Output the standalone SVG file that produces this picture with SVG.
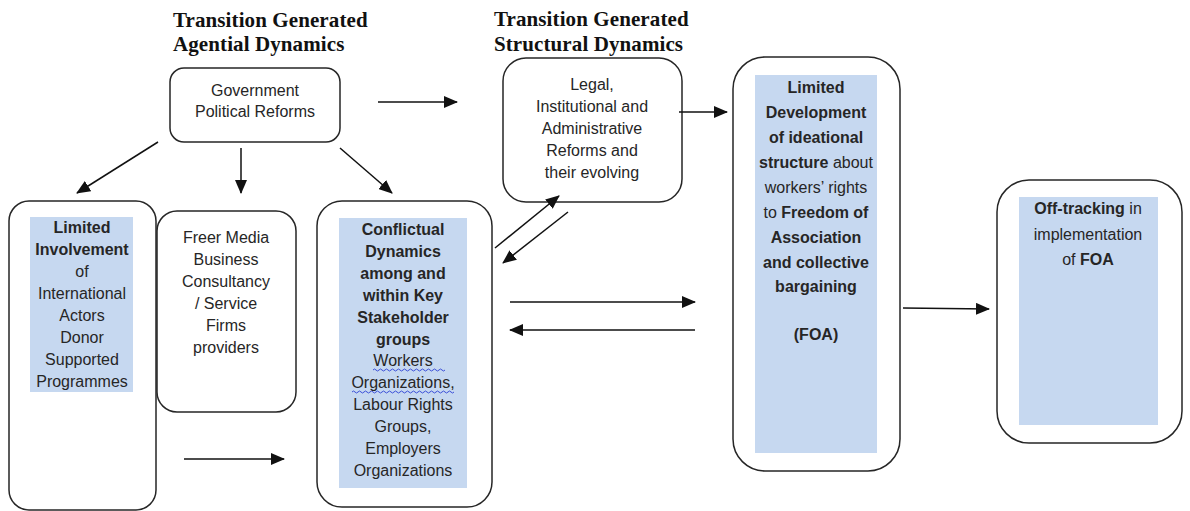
<svg xmlns="http://www.w3.org/2000/svg" width="1190" height="511" viewBox="0 0 1190 511">
<style>
.box{fill:#fff;stroke:#262626;stroke-width:1.5}
.hl{fill:#c6d8f0}
.t{font-family:"Liberation Sans",Arial,sans-serif;font-size:16px;fill:#262626;text-anchor:middle}
.b{font-weight:bold}
.title{font-family:"Liberation Serif","Times New Roman",serif;font-size:21px;font-weight:bold;fill:#111;letter-spacing:0.1px}
.c{stroke:#111;stroke-width:1.5;fill:none;marker-end:url(#ah)}
.wave{stroke:#3b4fd8;stroke-width:1;fill:none}
</style>
<defs>
<marker id="ah" markerUnits="userSpaceOnUse" markerWidth="14" markerHeight="12" refX="13" refY="6" orient="auto">
<path d="M0,0 L14,6 L0,12 Z" fill="#111"/>
</marker>
</defs>
<rect width="1190" height="511" fill="#fff"/>

<g id="titles">
<text class="title" x="173" y="27">Transition Generated</text>
<text class="title" x="173" y="51">Agential Dynamics</text>
<text class="title" x="494" y="26">Transition Generated</text>
<text class="title" x="494" y="51">Structural Dynamics</text>
</g>

<g id="gov">
<rect class="box" x="170" y="68" width="170" height="74" rx="14"/>
<text class="t" x="255" y="96">Government</text>
<text class="t" x="255" y="117">Political Reforms</text>
</g>

<g id="intl">
<rect class="box" x="9" y="201" width="147" height="309" rx="20"/>
<rect class="hl" x="30" y="217" width="103" height="175"/>
<text class="t b" x="82" y="233">Limited</text>
<text class="t b" x="82" y="255">Involvement</text>
<text class="t" x="82" y="277">of</text>
<text class="t" x="82" y="299">International</text>
<text class="t" x="82" y="321">Actors</text>
<text class="t" x="82" y="343">Donor</text>
<text class="t" x="82" y="365">Supported</text>
<text class="t" x="82" y="387">Programmes</text>
</g>

<g id="media">
<rect class="box" x="157" y="211" width="139" height="201" rx="20"/>
<text class="t" x="226" y="243">Freer Media</text>
<text class="t" x="226" y="265">Business</text>
<text class="t" x="226" y="287">Consultancy</text>
<text class="t" x="226" y="309">/ Service</text>
<text class="t" x="226" y="331">Firms</text>
<text class="t" x="226" y="353">providers</text>
</g>

<g id="conflict">
<rect class="box" x="317" y="201" width="175" height="306" rx="25"/>
<rect class="hl" x="339" y="218" width="128" height="270"/>
<text class="t b" x="403" y="235">Conflictual</text>
<text class="t b" x="403" y="257">Dynamics</text>
<text class="t b" x="403" y="279">among and</text>
<text class="t b" x="403" y="301">within Key</text>
<text class="t b" x="403" y="323">Stakeholder</text>
<text class="t b" x="403" y="345">groups</text>
<text class="t" x="403" y="366">Workers</text>
<text class="t" x="403" y="388">Organizations,</text>
<text class="t" x="403" y="410">Labour Rights</text>
<text class="t" x="403" y="432">Groups,</text>
<text class="t" x="403" y="454">Employers</text>
<text class="t" x="403" y="476">Organizations</text>
<path class="wave" d="M373,370 q1.5,-2 3,0 t3,0 t3,0 t3,0 t3,0 t3,0 t3,0 t3,0 t3,0 t3,0 t3,0 t3,0 t3,0 t3,0 t3,0 t3,0 t3,0 t3,0 t3,0 t3,0 t3,0 t3,0 t3,0 t3,0"/>
<path class="wave" d="M352,392 q1.5,-2 3,0 t3,0 t3,0 t3,0 t3,0 t3,0 t3,0 t3,0 t3,0 t3,0 t3,0 t3,0 t3,0 t3,0 t3,0 t3,0 t3,0 t3,0 t3,0 t3,0 t3,0 t3,0 t3,0 t3,0 t3,0 t3,0 t3,0 t3,0 t3,0 t3,0 t3,0 t3,0 t3,0 t3,0"/>
</g>

<g id="legal">
<rect class="box" x="503" y="58" width="179" height="144" rx="23"/>
<text class="t" x="592" y="90">Legal,</text>
<text class="t" x="592" y="112">Institutional and</text>
<text class="t" x="592" y="134">Administrative</text>
<text class="t" x="592" y="156">Reforms and</text>
<text class="t" x="592" y="178">their evolving</text>
</g>

<g id="foa">
<rect class="box" x="733" y="57" width="167" height="414" rx="32"/>
<rect class="hl" x="755" y="75" width="122" height="378"/>
<text class="t b" x="816" y="93">Limited</text>
<text class="t b" x="816" y="118">Development</text>
<text class="t b" x="816" y="143">of ideational</text>
<text class="t" x="816" y="168"><tspan class="b">structure</tspan> about</text>
<text class="t" x="816" y="193">workers’ rights</text>
<text class="t" x="816" y="218">to <tspan class="b">Freedom of</tspan></text>
<text class="t b" x="816" y="243">Association</text>
<text class="t b" x="816" y="268">and collective</text>
<text class="t b" x="816" y="292">bargaining</text>
<text class="t b" x="816" y="340">(FOA)</text>
</g>

<g id="offtrack">
<rect class="box" x="997" y="180" width="185" height="263" rx="32"/>
<rect class="hl" x="1019" y="197" width="139" height="228"/>
<text class="t" x="1088" y="214"><tspan class="b">Off-tracking</tspan> in</text>
<text class="t" x="1088" y="240">implementation</text>
<text class="t" x="1088" y="265">of <tspan class="b">FOA</tspan></text>
</g>

<g id="connectors">
<line class="c" x1="378" y1="102" x2="457" y2="102"/>
<line class="c" x1="158" y1="142" x2="77" y2="193"/>
<line class="c" x1="241" y1="148" x2="241" y2="193"/>
<line class="c" x1="340" y1="148" x2="392" y2="193"/>
<line class="c" x1="679" y1="112" x2="727" y2="112"/>
<line class="c" x1="495" y1="248" x2="559" y2="196"/>
<line class="c" x1="568" y1="212" x2="503" y2="263"/>
<line class="c" x1="510" y1="302" x2="695" y2="302"/>
<line class="c" x1="695" y1="330" x2="510" y2="330"/>
<line class="c" x1="184" y1="459" x2="284" y2="459"/>
<line class="c" x1="903" y1="308" x2="989" y2="309"/>
</g>
</svg>
